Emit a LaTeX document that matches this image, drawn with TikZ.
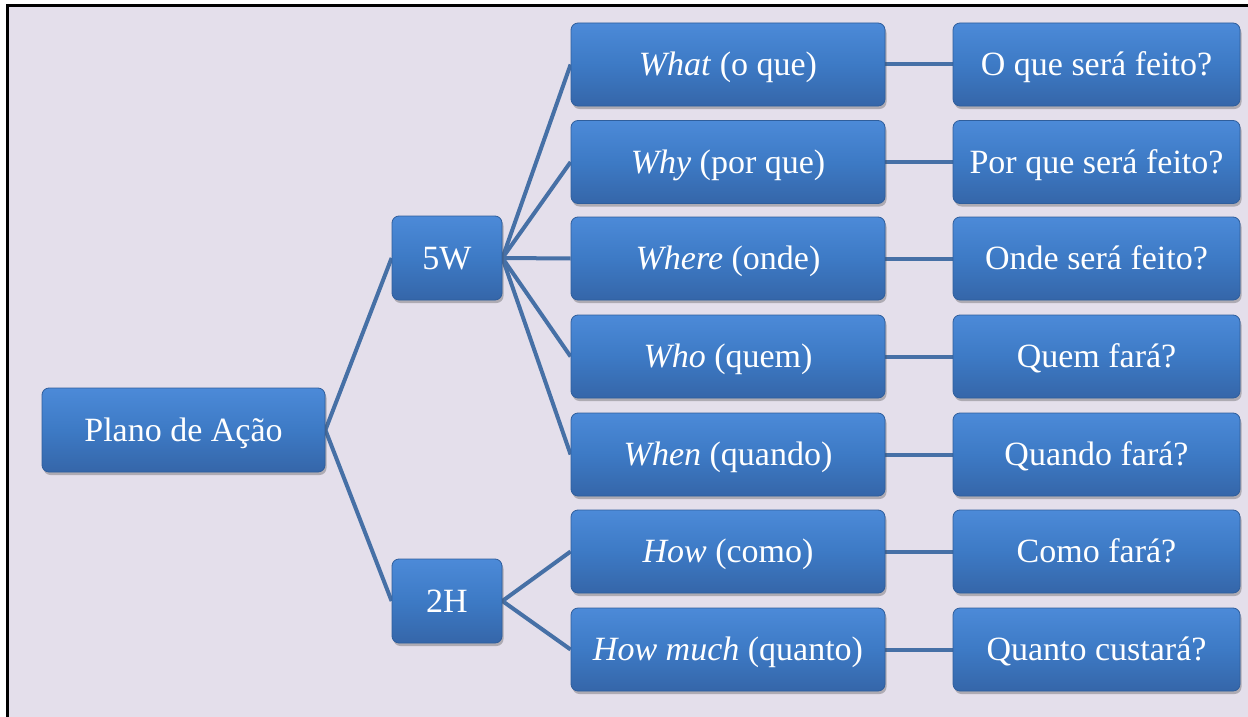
\documentclass[tikz,border=0pt]{standalone}
\usepackage{fontspec}
\setmainfont{Liberation Serif}
\usetikzlibrary{shadows,backgrounds}
\definecolor{bg}{HTML}{E4DFEB}
\definecolor{boxtop}{HTML}{4C8AD8}
\definecolor{boxmid}{HTML}{3D7AC5}
\definecolor{boxbot}{HTML}{3566A9}
\definecolor{boxedge}{HTML}{2F5E9C}
\definecolor{conn}{HTML}{4670A6}
\tikzset{
  box/.style={rounded corners=7pt, top color=boxtop, bottom color=boxbot, middle color=boxmid,
    draw=boxedge, line width=0.8pt, text=white, font=\fontsize{34}{40}\selectfont,
    drop shadow={shadow xshift=1.5pt, shadow yshift=-3pt, opacity=0.35, fill=black!70},
    inner sep=0pt, anchor=center, align=center, text height=28pt, text depth=6pt},
  rootbox/.style={box, minimum width=283pt, minimum height=84pt},
  groupbox/.style={box, minimum width=110pt, minimum height=84pt},
  itembox/.style={box, minimum width=314pt, minimum height=83pt},
  answerbox/.style={box, minimum width=287pt, minimum height=83pt},
  link/.style={draw=conn, line width=4pt}
}
\begin{document}
\begin{tikzpicture}[x=1pt,y=-1pt]
\useasboundingbox (0,0) rectangle (1248,717);
\node[rootbox] (plan) at (183.5,430) {Plano de Ação};
\node[groupbox] (w5) at (447,258) {5W};
\node[groupbox] (h2) at (447,601) {2H};
\node[itembox] (what) at (728,64.5) {\textit{What} (o que)};
\node[itembox] (why) at (728,162) {\textit{Why} (por que)};
\node[itembox] (where) at (728,258.5) {\textit{Where} (onde)};
\node[itembox] (who) at (728,356.5) {\textit{Who} (quem)};
\node[itembox] (when) at (728,454.5) {\textit{When} (quando)};
\node[itembox] (how) at (728,551.5) {\textit{How} (como)};
\node[itembox] (howmuch) at (728,649.5) {\textit{How much} (quanto)};
\node[answerbox] (a1) at (1096.5,64.5) {O que será feito?};
\node[answerbox] (a2) at (1096.5,162) {Por que será feito?};
\node[answerbox] (a3) at (1096.5,258.5) {Onde será feito?};
\node[answerbox] (a4) at (1096.5,356.5) {Quem fará?};
\node[answerbox] (a5) at (1096.5,454.5) {Quando fará?};
\node[answerbox] (a6) at (1096.5,551.5) {Como fará?};
\node[answerbox] (a7) at (1096.5,649.5) {Quanto custará?};
\begin{scope}[on background layer]
  \fill[bg] (7,6) rectangle (1248,717);
  \draw[line width=3pt] (7,717) -- (7,6) -- (1248,6);
  \draw[link] (plan.east) -- (w5.west);
  \draw[link] (plan.east) -- (h2.west);
  \foreach \t in {what,why,where,who,when}{\draw[link] (w5.east) -- (\t.west);}
  \foreach \t in {how,howmuch}{\draw[link] (h2.east) -- (\t.west);}
  \draw[link] (what.east) -- (a1.west);
  \draw[link] (why.east) -- (a2.west);
  \draw[link] (where.east) -- (a3.west);
  \draw[link] (who.east) -- (a4.west);
  \draw[link] (when.east) -- (a5.west);
  \draw[link] (how.east) -- (a6.west);
  \draw[link] (howmuch.east) -- (a7.west);
\end{scope}
\end{tikzpicture}
\end{document}
